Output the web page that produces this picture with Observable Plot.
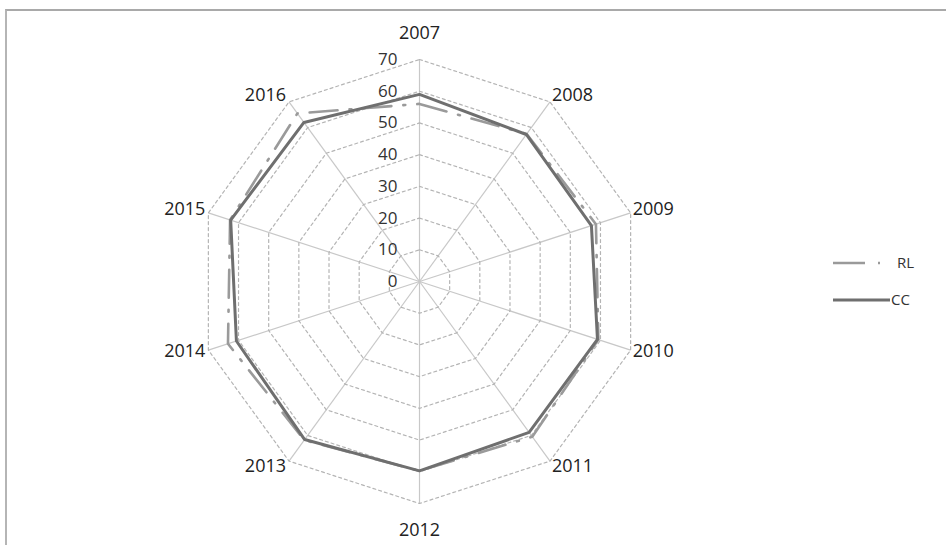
<!DOCTYPE html>
<html>
<head>
<meta charset="utf-8">
<script src="https://cdn.jsdelivr.net/npm/d3@7"></script>
<script src="https://cdn.jsdelivr.net/npm/@observablehq/plot@0.6"></script>
<style>
  html, body { margin: 0; padding: 0; background: #fff; }
  #wrap { position: relative; width: 946px; height: 545px; overflow: hidden; }
  #frame { position: absolute; left: 5px; top: 9px; width: 960px; height: 560px;
           border-top: 2px solid #a9a9a9; border-left: 2px solid #b5b5b5; pointer-events: none; }
  #legend { position: absolute; left: 820px; top: 248px; font-family: "Open Sans", sans-serif; font-size: 15px; color: #333; }
</style>
</head>
<body>
<div id="wrap">
  <div id="chart"></div>
  <div id="frame"></div>
  <svg id="legend" width="110" height="70"></svg>
</div>
<script>
const years = ["2007","2008","2009","2010","2011","2012","2013","2014","2015","2016"];
const rl = [56, 57.5, 58.5, 59.3, 60.5, 59.7, 61.8, 63.5, 62.8, 65.5];
const cc = [59, 57.3, 57, 59, 58.8, 59.7, 61.6, 60.7, 62.6, 62];
const ticks = [0, 10, 20, 30, 40, 50, 60, 70];
const seriesNames = ["RL", "CC"];

const W = 946, H = 545, cx = 419, cy = 281, rMax = 70, pxPerUnit = 222 / 70;
const n = years.length;
const ang = i => (i * 2 * Math.PI) / n;
const px = (r, i) => r * Math.sin(ang(i));
const py = (r, i) => r * Math.cos(ang(i));

const pts = (vals, name) => vals.map((v, i) => ({name, i, v}));
const series = [...pts(rl, "RL"), ...pts(cc, "CC")];
const axes = years.map((y, i) => ({y, i}));
const rings = ticks.filter(t => t > 0).flatMap(t => d3.range(n + 1).map(i => ({t, i: i % n})));

const rightLab = axes.filter(d => d.i > 0 && d.i < n / 2);
const leftLab = axes.filter(d => d.i > n / 2);
const topLab = axes.filter(d => d.i === 0);
const botLab = axes.filter(d => d.i === n / 2);

const font = "'Open Sans', sans-serif";

const chart = Plot.plot({
  width: W, height: H,
  margin: 0,
  x: {domain: [-cx / pxPerUnit, (W - cx) / pxPerUnit], range: [0, W], axis: null},
  y: {domain: [-(H - cy) / pxPerUnit, cy / pxPerUnit], range: [H, 0], axis: null},
  style: {fontFamily: font, background: "white"},
  marks: [
    Plot.link(axes, {x1: 0, y1: 0, x2: d => px(rMax, d.i), y2: d => py(rMax, d.i), stroke: "#c8c8c8", strokeWidth: 1.2}),
    Plot.line(rings, {x: d => px(d.t, d.i), y: d => py(d.t, d.i), z: "t", stroke: "#b4b4b4", strokeWidth: 1.2, strokeDasharray: "3,3"}),
    Plot.text(ticks, {x: 0, y: d => d, text: d => String(d), textAnchor: "end", dx: -22, fontSize: 17, fill: "#333"}),
    Plot.line(series.filter(d => d.name === "RL"), {x: d => px(d.v, d.i), y: d => py(d.v, d.i), curve: "linear-closed", stroke: "#9a9a9a", strokeWidth: 2.6, strokeDasharray: "28,12,2,12"}),
    Plot.line(series.filter(d => d.name === "CC"), {x: d => px(d.v, d.i), y: d => py(d.v, d.i), curve: "linear-closed", stroke: "#6f6f6f", strokeWidth: 3}),
    Plot.text(topLab, {x: d => px(rMax, d.i), y: d => py(rMax, d.i), text: "y", dy: -26, fontSize: 18, fill: "#222"}),
    Plot.text(botLab, {x: d => px(rMax, d.i), y: d => py(rMax, d.i), text: "y", dy: 27, fontSize: 18, fill: "#222"}),
    Plot.text(rightLab, {x: d => px(rMax, d.i), y: d => py(rMax, d.i), text: "y", textAnchor: "start", dx: 2,
      dy: 0, fontSize: 18, fill: "#222", transform: null}),
    Plot.text(leftLab, {x: d => px(rMax, d.i), y: d => py(rMax, d.i), text: "y", textAnchor: "end", dx: -3, fontSize: 18, fill: "#222"})
  ]
});
document.getElementById("chart").appendChild(chart);

// shift side labels vertically by angle (above for upper half, below for lower half)
chart.querySelectorAll("text").forEach(t => {
  const s = t.textContent;
  const i = years.indexOf(s);
  if (i > 0 && i !== n / 2) {
    const off = -7.5 * Math.cos(ang(i)) - 1;
    t.setAttribute("transform", (t.getAttribute("transform") || "") + ` translate(0,${off})`);
  }
});

// legend
const lg = d3.select("#legend");
const rows = [
  {name: seriesNames[0], stroke: "#9a9a9a", w: 2.6, dash: "32,13,2,13", len: 50, tx: 77},
  {name: seriesNames[1], stroke: "#6f6f6f", w: 3, dash: null, len: 57, tx: 71}
];
rows.forEach((r, k) => {
  const y = 15 + k * 37;
  lg.append("line").attr("x1", 13).attr("x2", 13 + r.len).attr("y1", y).attr("y2", y)
    .attr("stroke", r.stroke).attr("stroke-width", r.w).attr("stroke-dasharray", r.dash);
  lg.append("text").attr("x", r.tx).attr("y", y).attr("dy", "0.35em").attr("fill", "#333")
    .attr("font-size", 15).text(r.name);
});
</script>
</body>
</html>
